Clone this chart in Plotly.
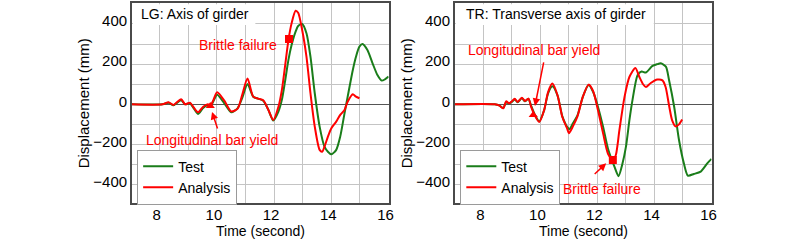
import plotly.graph_objects as go

# ---------------- data ----------------
# LG panel: Axis of girder
t_lg_test = [7.03, 8.1, 8.31, 8.48, 8.75, 8.89, 9.06, 9.17, 9.34, 9.52, 9.69, 9.77, 9.86, 10.01,
             10.26, 10.5, 10.72, 10.88, 11.07, 11.27, 11.44, 11.62, 11.8, 11.97, 12.15, 12.27,
             12.38, 12.5, 12.61, 12.75, 12.84, 12.98, 13.13, 13.27, 13.42, 13.59, 13.76, 13.88,
             14.0, 14.17, 14.31, 14.46, 14.57, 14.75, 14.86, 14.98, 15.09, 15.26, 15.44, 15.61,
             15.76, 15.87, 16.0]
d_lg_test = [0, 0, 8, -5, 20, 0, 5, -15, -48, -18, -5, -12, 10, 48,
             5, -40, -20, 30, 101, 38, 28, 18, -28, -81, -36, 22,
             113, 221, 295, 362, 390, 400, 354, 237, 55, -111, -211, -236,
             -249, -227, -161, -45, 38, 171, 237, 287, 300, 270, 204, 146,
             118, 124, 138]

t_lg_ana = [7.03, 8.1, 8.31, 8.48, 8.75, 8.89, 9.06, 9.17, 9.34, 9.52, 9.69, 9.77, 9.86, 10.01,
            10.26, 10.5, 10.72, 10.88, 11.07, 11.27, 11.44, 11.62, 11.8, 11.97, 12.15, 12.27,
            12.38, 12.5, 12.61, 12.75, 12.84, 12.98, 13.13, 13.27, 13.42, 13.59, 13.68, 13.76,
            13.88, 14.0, 14.17, 14.31, 14.46, 14.57, 14.75, 14.86, 14.98]
d_lg_ana = [0, 0, 10, -3, 25, 0, 8, -12, -40, -12, 0, -10, 15, 60,
            18, -35, -23, 45, 129, 38, 28, 20, -28, -78, -12, 71,
            188, 320, 403, 466, 456, 370, 237, 55, -111, -227, -236, -211,
            -161, -119, -86, -53, -28, 13, 50, 38, 30]

# TR panel: Transverse axis of girder
t_tr_test = [7.0, 8.4, 8.55, 8.7, 8.8, 8.9, 9.0, 9.1, 9.2, 9.35, 9.46, 9.58, 9.67, 9.8, 9.96,
             10.13, 10.27, 10.42, 10.6, 10.77, 10.95, 11.02, 11.14, 11.3, 11.49, 11.69, 11.85,
             12.02, 12.2, 12.37, 12.6, 12.74, 12.87, 13.0, 13.12, 13.23, 13.41, 13.55, 13.7,
             13.93, 14.1, 14.22, 14.4, 14.51, 14.69, 14.86, 15.03, 15.17, 15.38, 15.62, 15.85, 16.0]
d_tr_test = [0, 0, -5, -18, 10, 5, 12, 25, 10, 30, 15, 28, -5, -50, -85,
             -30, 55, 90, 45, -60, -115, -124, -95, -55, 38, 96, 61,
             -13, -113, -221, -312, -358, -300, -211, -80, 22, 146, 163, 158,
             191, 200, 204, 188, 121, -12, -178, -294, -355, -347, -335, -294, -272]

t_tr_ana = [7.0, 8.4, 8.55, 8.7, 8.8, 8.9, 9.0, 9.1, 9.2, 9.35, 9.46, 9.58, 9.67, 9.8, 9.96,
            10.13, 10.27, 10.42, 10.6, 10.77, 10.94, 11.0, 11.14, 11.3, 11.49, 11.69, 11.85,
            12.02, 12.2, 12.37, 12.55, 12.65, 12.77, 12.95, 13.12, 13.33, 13.47, 13.6, 13.7,
            13.87, 14.1, 14.28, 14.39, 14.51, 14.62, 14.74, 14.86, 14.97]
d_tr_ana = [0, 0, -5, -20, 15, 5, 15, 28, 12, 33, 17, 28, -10, -55, -88,
            -30, 61, 103, 45, -63, -121, -144, -110, -60, 38, 98, 65,
            -30, -146, -246, -280, -250, -129, 37, 136, 181, 136, 100, 86,
            106, 123, 119, 86, -5, -80, -110, -100, -76]

# event markers
lg_yield = (9.77, -8)
lg_brittle = (12.52, 325)
tr_yield = (9.75, -53)
tr_brittle = (12.54, -277)

x_ticks = [8, 10, 12, 14, 16]
y_ticks = [-400, -200, 0, 200, 400]

GREEN = "#1a7d1a"
RED = "#ff0000"
FONT = "Liberation Sans, Arial, sans-serif"

fig = go.Figure()

def add_pair(tt, dt, ta, da, xa, ya, lg):
    fig.add_trace(go.Scatter(x=tt, y=dt, mode="lines", name="Test",
                             line=dict(color=GREEN, width=2, shape="spline", smoothing=0.7),
                             xaxis=xa, yaxis=ya, legend=lg))
    fig.add_trace(go.Scatter(x=ta, y=da, mode="lines", name="Analysis",
                             line=dict(color=RED, width=2, shape="spline", smoothing=0.7),
                             xaxis=xa, yaxis=ya, legend=lg))

add_pair(t_lg_test, d_lg_test, t_lg_ana, d_lg_ana, "x", "y", "legend")
add_pair(t_tr_test, d_tr_test, t_tr_ana, d_tr_ana, "x2", "y2", "legend2")

# markers
for pt, sym, xa, ya, lg in [(lg_yield, "triangle-up", "x", "y", "legend"),
                            (lg_brittle, "square", "x", "y", "legend"),
                            (tr_yield, "triangle-up", "x2", "y2", "legend2"),
                            (tr_brittle, "square", "x2", "y2", "legend2")]:
    fig.add_trace(go.Scatter(x=[pt[0]], y=[pt[1]], mode="markers", showlegend=False,
                             marker=dict(symbol=sym, color=RED, size=8),
                             xaxis=xa, yaxis=ya, legend=lg, hoverinfo="skip"))

YDOM = [0.1668, 0.9865]
GRID = "#c4c4c4"
common_x = dict(tickvals=x_ticks, showgrid=True, gridcolor=GRID, gridwidth=1,
                minor=dict(dtick=1, tick0=0, showgrid=True, gridcolor=GRID, gridwidth=1),
                showline=True, mirror=True, linecolor="#4a4a4a", linewidth=1.5, ticks="",
                zeroline=False, tickfont=dict(size=15, color="black", family=FONT),
                ticklabelshift=-3, ticklabelstandoff=-3)
common_y = dict(range=[-493, 503], tickvals=y_ticks, showgrid=True, gridcolor=GRID, gridwidth=1,
                minor=dict(dtick=100, tick0=0, showgrid=True, gridcolor=GRID, gridwidth=1),
                showline=True, mirror=True, linecolor="#4a4a4a", linewidth=1.5, ticks="",
                zeroline=True, zerolinecolor="#555555", zerolinewidth=1,
                tickfont=dict(size=15, color="black", family=FONT), ticklabelshift=-3,
                title=dict(text="Displacement (mm)", font=dict(size=15, color="black", family=FONT),
                           standoff=0))

fig.update_layout(
    width=800, height=244, autosize=False,
    margin=dict(l=0, r=0, t=0, b=0),
    paper_bgcolor="white", plot_bgcolor="white",
    font=dict(family=FONT, size=14, color="black"),
    xaxis=dict(domain=[0.1659, 0.4888], anchor="y", range=[7.03, 16], **common_x),
    yaxis=dict(domain=YDOM, anchor="x", **common_y),
    xaxis2=dict(domain=[0.5721, 0.895], anchor="y2", range=[7.0, 16], **common_x),
    yaxis2=dict(domain=YDOM, anchor="x2", **common_y),
    legend=dict(x=0.1725, y=0.387, xanchor="left", yanchor="top", bgcolor="white",
                bordercolor="#9a9a9a", borderwidth=1, font=dict(size=14, family=FONT),
                itemwidth=30),
    legend2=dict(x=0.579, y=0.387, xanchor="left", yanchor="top", bgcolor="white",
                 bordercolor="#9a9a9a", borderwidth=1, font=dict(size=14, family=FONT),
                 itemwidth=30),
    hovermode=False,
)

# white title boxes (no curve passes through them)
fig.add_shape(type="rect", xref="x domain", yref="y domain", x0=0.004, x1=0.481, y0=0.8915, y1=0.995,
              fillcolor="white", line=dict(width=0), layer="above")
fig.add_shape(type="rect", xref="x2 domain", yref="y2 domain", x0=0.004, x1=0.775, y0=0.8915, y1=0.995,
              fillcolor="white", line=dict(width=0), layer="above")

fig.add_annotation(text="LG: Axis of girder", xref="x domain", yref="y domain", x=0.028, y=0.9475,
                   xanchor="left", yanchor="middle", showarrow=False, font=dict(size=14, color="black"))
fig.add_annotation(text="TR: Transverse axis of girder", xref="x2 domain", yref="y2 domain", x=0.035,
                   y=0.9475, xanchor="left", yanchor="middle", showarrow=False,
                   font=dict(size=14, color="black"))

# x axis titles
for xr in ["x domain", "x2 domain"]:
    fig.add_annotation(text="Time (second)", xref=xr, yref="paper", x=0.5, y=1 - 231 / 244,
                       xanchor="center", yanchor="middle", showarrow=False,
                       font=dict(size=14, color="black"))

# red labels
fig.add_annotation(text="Brittle failure", xref="x", yref="y", x=10.755, y=295, showarrow=False,
                   font=dict(size=14, color=RED))
fig.add_annotation(text="Longitudinal bar yield", xref="x", yref="y", x=9.835, y=-178, showarrow=False,
                   font=dict(size=14, color=RED))
fig.add_annotation(text="Longitudinal bar yield", xref="x2", yref="y2", x=9.763, y=270, showarrow=False,
                   font=dict(size=14, color=RED))
fig.add_annotation(text="Brittle failure", xref="x2", yref="y2", x=12.167, y=-422, showarrow=False,
                   font=dict(size=14, color=RED))

# arrows
fig.add_annotation(text="", xref="x", yref="y", x=9.83, y=-38, ax=6, ay=18, showarrow=True,
                   arrowcolor=RED, arrowwidth=1.5, arrowhead=2, arrowsize=1)
fig.add_annotation(text="", xref="x2", yref="y2", x=9.81, y=-8, ax=9, ay=-45, showarrow=True,
                   arrowcolor=RED, arrowwidth=1.5, arrowhead=2, arrowsize=1)
fig.add_annotation(text="", xref="x2", yref="y2", x=12.307, y=-294, ax=-13, ay=12, showarrow=True,
                   arrowcolor=RED, arrowwidth=1.5, arrowhead=2, arrowsize=1)

fig.write_html("out.html")
